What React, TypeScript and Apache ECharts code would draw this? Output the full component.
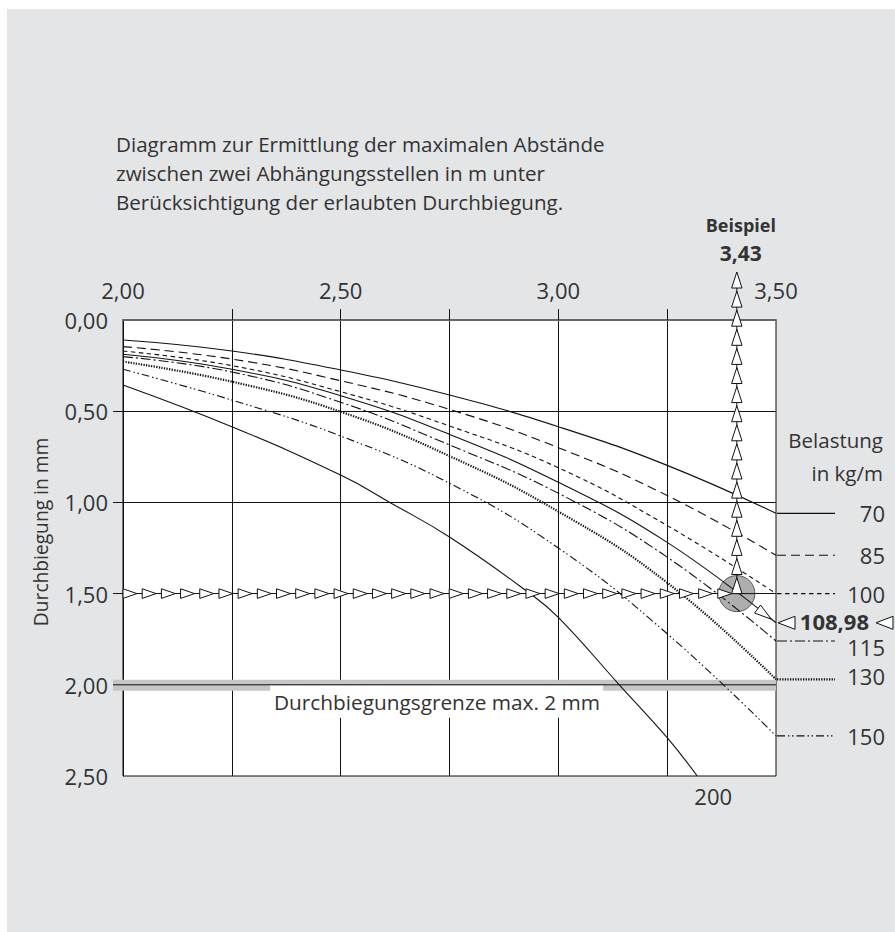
import React, { useEffect, useRef } from "react";
import * as echarts from "echarts";

// ---- data ----
const spanLengths = [2.0, 2.25, 2.5, 2.75, 3.0, 3.25, 3.5];
const loadLabels = ["70", "85", "100", "108,98", "115", "130", "150", "200"];
const defl70 = [0.11, 0.17, 0.274, 0.411, 0.585, 0.797, 1.06];
const defl85 = [0.146, 0.214, 0.333, 0.49, 0.7, 0.962, 1.29];
const defl100 = [0.17, 0.25, 0.393, 0.581, 0.81, 1.127, 1.5];
const defl10898 = [0.188, 0.27, 0.415, 0.627, 0.89, 1.219, 1.66];
const defl115 = [0.201, 0.285, 0.451, 0.685, 0.95, 1.3, 1.76];
const defl130 = [0.228, 0.338, 0.503, 0.746, 1.05, 1.44, 1.97];
const defl150 = [0.27, 0.439, 0.636, 0.895, 1.25, 1.72, 2.28];
const spanLengths200 = [2.0, 2.25, 2.5, 2.613, 2.75, 2.935, 3.0, 3.14, 3.25, 3.319];
const defl200 = [0.356, 0.585, 0.85, 1.0, 1.19, 1.5, 1.63, 2.0, 2.29, 2.5];
const xLabelValues = [2.0, 2.5, 3.0, 3.5];
const xTickValues = [2.25, 2.5, 2.75, 3.0, 3.25];
const yTickValues = [0.5, 1.0, 1.5, 2.0];
const limitDeflection = 2.0;
const exampleSpan = 3.41;
const exampleDeflection = 1.5;
const exampleSpanText = "3,43";
const exampleLoadText = "108,98";

const FONT = "'Open Sans', 'Noto Sans', sans-serif";
const TXT = "#333";
const INK = "#111";

export default function App() {
  const ref = useRef<HTMLDivElement>(null);
  useEffect(() => {
    const chart = echarts.init(ref.current!, null, { renderer: "svg" });
    const fmt = (v: number) => v.toFixed(2).replace(".", ",");
    const curves = [
      { label: loadLabels[0], x: spanLengths, y: defl70, dash: "solid" as any, width: 1.1, legend: true, dy: 0 },
      { label: loadLabels[1], x: spanLengths, y: defl85, dash: [9, 5], width: 1.1, legend: true, dy: 0 },
      { label: loadLabels[2], x: spanLengths, y: defl100, dash: [4.5, 3.5], width: 1.1, legend: true, dy: 0 },
      { label: loadLabels[3], x: spanLengths, y: defl10898, dash: "solid" as any, width: 1.1, legend: false, dy: 0 },
      { label: loadLabels[4], x: spanLengths, y: defl115, dash: [10, 3, 2, 3], width: 1.1, legend: true, dy: 6 },
      { label: loadLabels[5], x: spanLengths, y: defl130, dash: [1.3, 1.3], width: 2.2, legend: true, dy: -3 },
      { label: loadLabels[6], x: spanLengths, y: defl150, dash: [8, 3, 1.5, 2.5, 1.5, 3], width: 1.1, legend: true, dy: 0 },
      { label: loadLabels[7], x: spanLengths200, y: defl200, dash: "solid" as any, width: 1.1, legend: false, dy: 0 },
    ];

    chart.setOption({
      animation: false,
      grid: {
        left: 123, top: 320, width: 653, height: 456,
        show: true, backgroundColor: "#fff", borderColor: INK, borderWidth: 1,
      },
      xAxis: {
        type: "value", position: "top", min: 2, max: 3.5, interval: 0.25,
        axisLine: { show: true, lineStyle: { color: "#666", width: 2 } },
        axisTick: { show: true, length: 11, customValues: xTickValues, lineStyle: { color: INK } },
        axisLabel: { customValues: xLabelValues, formatter: fmt, color: TXT, fontSize: 22, fontFamily: FONT, margin: 19 },
        splitLine: { show: true, lineStyle: { color: INK, width: 1 } },
      },
      yAxis: {
        type: "value", inverse: true, min: 0, max: 2.5, interval: 0.5,
        axisLine: { show: true, lineStyle: { color: INK } },
        axisTick: { show: true, length: 10, customValues: yTickValues, lineStyle: { color: INK } },
        axisLabel: { formatter: fmt, color: TXT, fontSize: 22, fontFamily: FONT, margin: 15 },
        splitLine: { show: true, lineStyle: { color: INK, width: 1 } },
      },
      series: curves.map((c) => ({
        type: "line",
        name: c.label,
        data: c.x.map((v, i) => [v, c.y[i]]),
        smooth: 0.45,
        symbol: "none",
        silent: true,
        z: 2,
        lineStyle: { color: INK, width: c.width, type: c.dash, cap: "butt" },
      })),
    });

    const P = (x: number, y: number) => chart.convertToPixel({ gridIndex: 0 }, [x, y]) as number[];
    const tri = (tx: number, ty: number, dx: number, dy: number, len: number, hw: number) => {
      const bx = tx - dx * len, by = ty - dy * len;
      const px = -dy, py = dx;
      return [[tx, ty], [bx + px * hw, by + py * hw], [bx - px * hw, by - py * hw]];
    };
    const triStyle = { fill: "#fff", stroke: INK, lineWidth: 1 };
    const g: any[] = [];

    // limit band
    const [lx0, ly] = P(2.0, limitDeflection);
    const [lx1] = P(3.5, limitDeflection);
    g.push({ type: "rect", z: 1, shape: { x: lx0 - 10, y: ly - 5, width: lx1 - lx0 + 10, height: 11 }, style: { fill: "#c6c6c6" } });
    g.push({ type: "line", z: 1, shape: { x1: lx0 - 10, y1: ly, x2: lx1, y2: ly }, style: { stroke: INK, lineWidth: 1 } });
    g.push({ type: "rect", z: 3, shape: { x: 270, y: ly + 1, width: 333, height: 32 }, style: { fill: "#fff" } });
    g.push({ type: "text", z: 4, x: 437, y: ly + 17, style: { text: "Durchbiegungsgrenze max. 2 mm", fill: TXT, fontSize: 20.8, fontFamily: FONT, align: "center", verticalAlign: "middle" } });

    // example marker
    const [cx, cy] = P(exampleSpan, exampleDeflection);
    const [gx0] = P(2.0, exampleDeflection);
    const gridTop = P(2.0, 0)[1];
    g.push({ type: "circle", z: 1, shape: { cx, cy, r: 18 }, style: { fill: "#aeaeae", stroke: "#555", lineWidth: 1 } });
    g.push({ type: "line", z: 4, shape: { x1: cx, y1: cy, x2: cx + 18, y2: cy }, style: { stroke: INK, lineWidth: 1 } });
    const topTip = gridTop - 48;
    g.push({ type: "line", z: 4, shape: { x1: cx, y1: cy, x2: cx, y2: topTip + 14 }, style: { stroke: INK, lineWidth: 1 } });
    const nH = 32;
    const sH = (cx - 5 - 14 - gx0) / (nH - 1);
    for (let k = 0; k < nH; k++) {
      const tipX = gx0 + k * sH + 14;
      g.push({ type: "polygon", z: 5, shape: { points: tri(tipX, cy, 1, 0, 14, 4.8) }, style: triStyle });
    }
    const nV = 17;
    const sV = (cy - 16 - topTip) / (nV - 1);
    for (let k = 0; k < nV; k++) {
      const tipY = cy - 16 - k * sV;
      g.push({ type: "polygon", z: 5, shape: { points: tri(cx, tipY, 0, -1, 16, 5.2) }, style: triStyle });
    }
    // arrow along example curve to its end
    const ex = curves[3];
    const [endX, endY] = P(3.5, ex.y[ex.y.length - 1]);
    let ux = endX - cx, uy = endY - cy;
    const ul = Math.hypot(ux, uy); ux /= ul; uy /= ul;
    g.push({ type: "polygon", z: 5, shape: { points: tri(endX - ux * 6, endY - uy * 6, ux, uy, 17, 5) }, style: triStyle });

    // Beispiel labels
    g.push({ type: "text", z: 5, x: cx + 4, y: 225, style: { text: "Beispiel", fill: TXT, fontSize: 18, fontWeight: "bold", fontFamily: FONT, align: "center", verticalAlign: "middle" } });
    g.push({ type: "text", z: 5, x: cx + 4, y: 253, style: { text: exampleSpanText, fill: TXT, fontSize: 21, fontWeight: "bold", fontFamily: FONT, align: "center", verticalAlign: "middle" } });

    // right legend
    g.push({ type: "text", x: 883, y: 440, style: { text: "Belastung", fill: TXT, fontSize: 20.5, fontFamily: FONT, align: "right", verticalAlign: "middle" } });
    g.push({ type: "text", x: 883, y: 473, style: { text: "in kg/m", fill: TXT, fontSize: 20.5, fontFamily: FONT, align: "right", verticalAlign: "middle" } });
    curves.forEach((c) => {
      if (!c.legend) return;
      const [ax, ay] = P(3.5, c.y[c.y.length - 1]);
      g.push({ type: "line", shape: { x1: ax + 1, y1: ay, x2: 835, y2: ay }, style: { stroke: INK, lineWidth: c.width, lineDash: Array.isArray(c.dash) ? c.dash : null } });
      g.push({ type: "text", x: 885, y: ay + c.dy, style: { text: c.label, fill: TXT, fontSize: 22, fontFamily: FONT, align: "right", verticalAlign: "middle" } });
    });
    // example load label
    g.push({ type: "polygon", z: 5, shape: { points: tri(endX + 2, endY, -1, 0, 17, 6.5) }, style: triStyle });
    g.push({ type: "text", z: 5, x: 869, y: endY - 2, style: { text: exampleLoadText, fill: TXT, fontSize: 22, fontWeight: "bold", fontFamily: FONT, align: "right", verticalAlign: "middle" } });
    g.push({ type: "polygon", z: 5, shape: { points: tri(876, endY, -1, 0, 17, 6.5) }, style: triStyle });
    // 200 label
    const c200 = curves[7];
    const [bx, by] = P(c200.x[c200.x.length - 1], c200.y[c200.y.length - 1]);
    g.push({ type: "text", x: bx + 16, y: by + 20, style: { text: c200.label, fill: TXT, fontSize: 22, fontFamily: FONT, align: "center", verticalAlign: "middle" } });

    // title
    const title = [
      "Diagramm zur Ermittlung der maximalen Abstände",
      "zwischen zwei Abhängungsstellen in m unter",
      "Berücksichtigung der erlaubten Durchbiegung.",
    ];
    title.forEach((t, i) => {
      g.push({ type: "text", x: 116, y: 143.5 + i * 29, style: { text: t, fill: TXT, fontSize: 20.6, fontFamily: FONT, align: "left", verticalAlign: "middle" } });
    });
    // y axis name
    g.push({ type: "text", x: 40, y: 532, rotation: Math.PI / 2, style: { text: "Durchbiegung in mm", fill: TXT, fontSize: 19.2, fontFamily: FONT, align: "center", verticalAlign: "middle" } });

    chart.setOption({ graphic: g });
    return () => chart.dispose();
  }, []);

  return (
    <div
      style={{
        position: "absolute", left: 0, top: 0, width: 895, height: 932,
        background: "linear-gradient(#e4e5e7,#e4e5e7) 7px 9px / 888px 923px no-repeat #fff",
      }}
    >
      <div ref={ref} style={{ width: 895, height: 932 }} />
    </div>
  );
}
